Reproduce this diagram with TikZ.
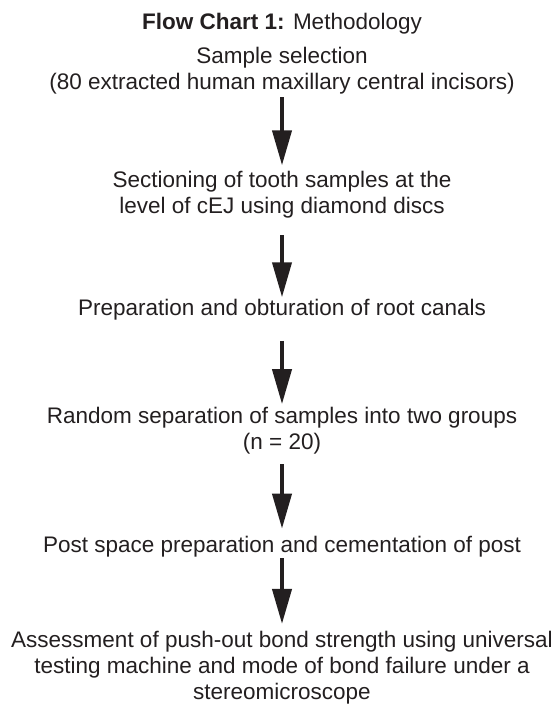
\documentclass[tikz,border=0pt]{standalone}
\usepackage{fontspec}
\setmainfont{Liberation Sans}
\usetikzlibrary{positioning, arrows.meta}

\definecolor{ink}{HTML}{231F20}
\tikzset{
  stepnode/.style={align=center, inner sep=0pt, outer sep=0pt, text=ink,
    font=\fontsize{16}{18.7}\selectfont},
  flowarrow/.style={draw=ink, line width=0.1cm,
    -{Triangle[length=0.875cm, width=0.475cm]}}
}

\begin{document}
\begin{tikzpicture}[x=0.025cm, y=-0.025cm]
\useasboundingbox (0,0) rectangle (559,709);

\node[stepnode, anchor=base] (title) at (282,30) {\textbf{Flow Chart 1:} Methodology};

\node[stepnode, anchor=north] (S1) at (282,47) {Sample selection\\(80 extracted human maxillary central incisors)};
\node[stepnode, anchor=north] (S2) at (282,171) {Sectioning of tooth samples at the\\level of cEJ using diamond discs};
\node[stepnode, anchor=base] (S3) at (282,315) {Preparation and obturation of root canals};
\node[stepnode, anchor=north] (S4) at (282,407) {Random separation of samples into two groups\\(n = 20)};
\node[stepnode, anchor=base] (S5) at (282,552) {Post space preparation and cementation of post};
\node[stepnode, anchor=north] (S6) at (282,631) {Assessment of push-out bond strength using universal\\testing machine and mode of bond failure under a\\stereomicroscope};

\draw[flowarrow, shorten <=2, shorten >=4] (S1) -- (S2);
\draw[flowarrow, shorten <=12, shorten >=1] (S2) -- (S3);
\draw[flowarrow, shorten <=15, shorten >=2] (S3) -- (S4);
\draw[flowarrow, shorten <=7, shorten >=5] (S4) -- (S5);
\draw[flowarrow, shorten <=1, shorten >=5] (S5) -- (S6);

\end{tikzpicture}
\end{document}
